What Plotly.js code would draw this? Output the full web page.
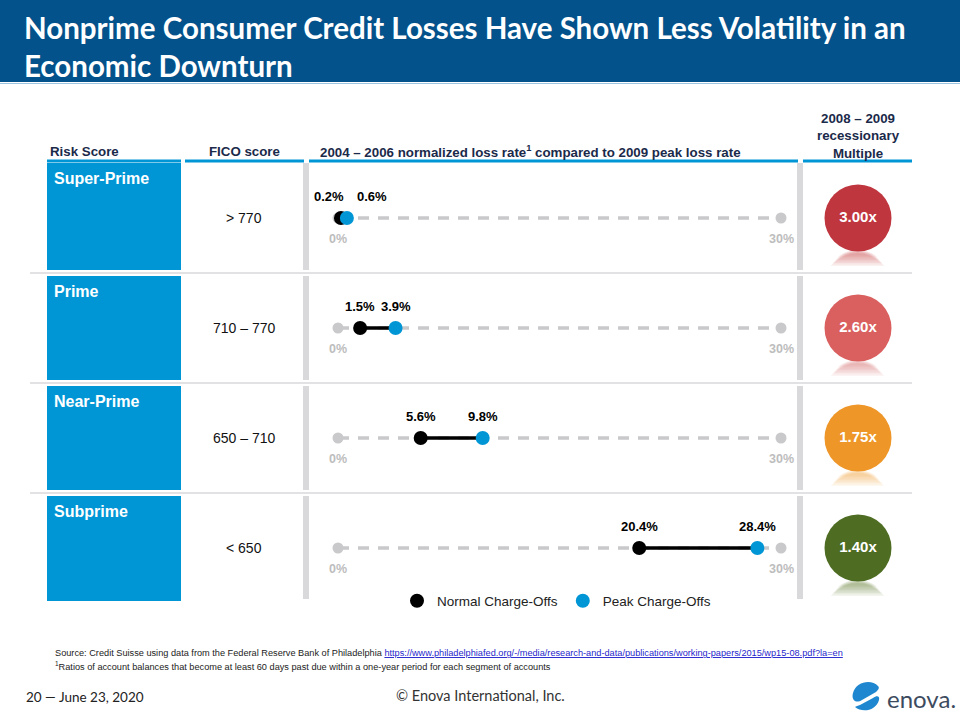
<!DOCTYPE html>
<html>
<head>
<meta charset="utf-8">
<script src="https://cdn.plot.ly/plotly-3.0.1.min.js"></script>
<style>
html,body{margin:0;padding:0;background:#fff;}
#chart{width:960px;height:720px;}
</style>
</head>
<body>
<div id="chart"></div>
<script>
// ---------------- DATA ----------------
const riskNames   = ['Super-Prime', 'Prime', 'Near-Prime', 'Subprime'];
const ficoLabels  = ['> 770', '710 – 770', '650 – 710', '< 650'];
const normalRate  = [0.2, 1.5, 5.6, 20.4];   // 2004-2006 normalized loss rate (%)
const peakRate    = [0.6, 3.9, 9.8, 28.4];   // 2009 peak loss rate (%)
const multiples   = [3.00, 2.60, 1.75, 1.40];
const scaleEnds   = [0, 30];
const multipleColors = ['#C0363F', '#D9605F', '#EE9628', '#4E6D23'];

// ---------------- LAYOUT HELPERS ----------------
const W = 960, H = 720;
const px = x => x / W;
const py = y => 1 - y / H;
const rowY0 = 218, rowStep = 110;
const yRange = [(H - rowY0) / rowStep, -rowY0 / rowStep];
const boxTops = [163, 276, 386, 496];
const boxBots = [270, 380, 490, 601];
const sepYs = [273, 383, 493];

const FONT = 'Liberation Sans, Arial, sans-serif';
const TITLEFONT = 'Lato, Open Sans, sans-serif';
const NAVY = '#1B2A4A';
const BLUE = '#0096D6';
const GRAY = '#C9C9CB';

// ---------------- TRACES ----------------
const dashX = [], dashY = [];
const connX = [], connY = [];
riskNames.forEach((r, i) => {
  dashX.push(scaleEnds[0], scaleEnds[1], null); dashY.push(r, r, null);
  connX.push(normalRate[i], peakRate[i], null); connY.push(r, r, null);
});
const endX = [], endY = [];
riskNames.forEach(r => { endX.push(scaleEnds[0], scaleEnds[1]); endY.push(r, r); });

const traces = [
  { type: 'scatter', mode: 'lines', x: dashX, y: dashY, xaxis: 'x', yaxis: 'y', cliponaxis: false,
    line: { color: GRAY, width: 3.5, dash: '11px,9px' }, hoverinfo: 'skip', showlegend: false },
  { type: 'scatter', mode: 'markers', x: endX, y: endY, xaxis: 'x', yaxis: 'y', cliponaxis: false,
    marker: { color: GRAY, size: 11 }, hoverinfo: 'skip', showlegend: false },
  { type: 'scatter', mode: 'lines', x: connX, y: connY, xaxis: 'x', yaxis: 'y', cliponaxis: false,
    line: { color: '#000000', width: 3.5 }, hoverinfo: 'skip', showlegend: false },
  { type: 'scatter', mode: 'markers', name: 'Normal Charge-Offs', x: normalRate, y: riskNames, cliponaxis: false,
    xaxis: 'x', yaxis: 'y', marker: { color: '#000000', size: 14 } },
  { type: 'scatter', mode: 'markers', name: 'Peak Charge-Offs', x: peakRate, y: riskNames, cliponaxis: false,
    xaxis: 'x', yaxis: 'y', marker: { color: BLUE, size: 14 } },
  { type: 'scatter', mode: 'markers+text', x: riskNames.map(() => 'Multiple'), y: riskNames, cliponaxis: false,
    xaxis: 'x2', yaxis: 'y', showlegend: false, hoverinfo: 'skip',
    marker: { color: multipleColors, size: 67, line: { width: 0 } },
    text: multiples.map(m => m.toFixed(2) + 'x'), textposition: 'middle center',
    textfont: { family: FONT, size: 15, color: '#FFFFFF', weight: 'bold' } }
];

// ---------------- SHAPES ----------------
const shapes = [];
// title bar
shapes.push({ type: 'rect', xref: 'paper', yref: 'paper', x0: 0, x1: 1, y0: py(82), y1: 1,
  fillcolor: '#03528B', line: { width: 0 }, layer: 'below' });
shapes.push({ type: 'line', xref: 'paper', yref: 'paper', x0: 0, x1: 1, y0: py(83.5), y1: py(83.5),
  line: { color: '#9CC3E0', width: 1.2 } });
// header underlines
[[47, 181], [185, 304], [309, 798], [803, 912]].forEach(s => {
  shapes.push({ type: 'line', xref: 'paper', yref: 'paper', x0: px(s[0]), x1: px(s[1]), y0: py(161), y1: py(161),
    line: { color: BLUE, width: 3 } });
});
// row boxes, vertical bars, reflections
riskNames.forEach((r, i) => {
  shapes.push({ type: 'rect', xref: 'paper', yref: 'paper', x0: px(47), x1: px(181),
    y0: py(boxBots[i]), y1: py(boxTops[i]), fillcolor: BLUE, line: { width: 0 }, layer: 'below' });
  [[303, 309], [797, 803]].forEach(b => {
    shapes.push({ type: 'rect', xref: 'paper', yref: 'paper', x0: px(b[0]), x1: px(b[1]),
      y0: py(boxBots[i] - (i === 3 ? 2 : 0)), y1: py(boxTops[i]), fillcolor: '#D9D9DB', line: { width: 0 }, layer: 'below' });
  });
  // soft reflection under circle (layered lens shapes)
  const cy = rowY0 + rowStep * i + 34;
  const c = multipleColors[i];
  for (let k = 0; k < 8; k++) {
    const bottom = cy + 14 - k * 1.5;
    const half = 27 - k * 1.2;
    shapes.push({ type: 'path', xref: 'paper', yref: 'paper', layer: 'below',
      path: `M ${px(857.5 - half)} ${py(bottom)} Q ${px(857.5)} ${py(cy - 12 + k * 0.5)} ${px(857.5 + half)} ${py(bottom)} Z`,
      fillcolor: c, opacity: 0.07, line: { width: 0 } });
  }
});
sepYs.forEach(y => {
  shapes.push({ type: 'line', xref: 'paper', yref: 'paper', x0: px(30), x1: px(912), y0: py(y), y1: py(y),
    line: { color: '#D9D9DB', width: 1.5 } });
});
// logo swirl
shapes.push({ type: 'path', xref: 'paper', yref: 'paper',
  path: `M ${px(878)} ${py(686)} C ${px(872)} ${py(679)} ${px(856)} ${py(681)} ${px(853)} ${py(693)} C ${px(851)} ${py(700)} ${px(856)} ${py(704)} ${px(862)} ${py(700)} L ${px(876)} ${py(692)} C ${px(878)} ${py(690)} ${px(880)} ${py(688)} ${px(878)} ${py(686)} Z`,
  fillcolor: '#1F87CF', line: { width: 0 } });
shapes.push({ type: 'path', xref: 'paper', yref: 'paper',
  path: `M ${px(855)} ${py(707)} C ${px(862)} ${py(713)} ${px(876)} ${py(711)} ${px(879)} ${py(700)} C ${px(880)} ${py(696)} ${px(877)} ${py(695)} ${px(873)} ${py(698)} L ${px(860)} ${py(705)} C ${px(858)} ${py(706)} ${px(856)} ${py(706)} ${px(855)} ${py(707)} Z`,
  fillcolor: '#1F87CF', line: { width: 0 } });

// ---------------- ANNOTATIONS ----------------
const ann = [];
const addP = (x, y, text, opts) => ann.push(Object.assign({ xref: 'paper', yref: 'paper', x: px(x), y: py(y),
  text: text, showarrow: false, xanchor: 'left', yanchor: 'middle' }, opts));

// title
addP(22, 28, 'Nonprime Consumer Credit Losses Have Shown Less Volatility in an',
  { font: { family: TITLEFONT, size: 29.5, color: '#FFFFFF', weight: 'bold' } });
addP(22, 65, 'Economic Downturn',
  { font: { family: TITLEFONT, size: 29.5, color: '#FFFFFF', weight: 'bold' } });

// headers
const hf = { family: FONT, size: 13.3, color: NAVY, weight: 'bold' };
addP(48, 151, 'Risk Score', { font: hf });
addP(244, 151, 'FICO score', { font: hf, xanchor: 'center' });
addP(318, 151, '2004 – 2006 normalized loss rate<sup>1</sup> compared to 2009 peak loss rate', { font: hf });
addP(858, 136, '2008 – 2009<br>recessionary<br>Multiple', { font: hf, xanchor: 'center', align: 'center' });

riskNames.forEach((r, i) => {
  addP(52, boxTops[i] + 15, r, { font: { family: FONT, size: 16, color: '#FFFFFF', weight: 'bold' } });
  ann.push({ xref: 'paper', yref: 'y', x: px(244), y: r, text: ficoLabels[i], showarrow: false,
    xanchor: 'center', font: { family: FONT, size: 14, color: '#111111' } });
  // 0% / 30%
  scaleEnds.forEach(v => {
    ann.push({ xref: 'x', yref: 'y', x: v, y: r, text: v + '%', showarrow: false, yshift: -21,
      font: { family: FONT, size: 12.5, color: '#BDBDBD', weight: 'bold' } });
  });
  // value labels
  const tight = (peakRate[i] - normalRate[i]) < 2;
  ann.push({ xref: 'x', yref: 'y', x: normalRate[i], y: r, text: '<b>' + normalRate[i].toFixed(1) + '%</b>',
    showarrow: false, yshift: 22, xshift: tight ? 5 : 0, xanchor: tight ? 'right' : 'center',
    font: { family: FONT, size: 13, color: '#000000' } });
  ann.push({ xref: 'x', yref: 'y', x: peakRate[i], y: r, text: '<b>' + peakRate[i].toFixed(1) + '%</b>',
    showarrow: false, yshift: 22, xshift: tight ? 8 : 0, xanchor: tight ? 'left' : 'center',
    font: { family: FONT, size: 13, color: '#000000' } });
});

// footer
const url = 'https://www.philadelphiafed.org/-/media/research-and-data/publications/working-papers/2015/wp15-08.pdf?la=en';
addP(53, 653, 'Source: Credit Suisse using data from the Federal Reserve Bank of Philadelphia ' +
  '<span style="fill:#1F1FCC;text-decoration:underline">' + url + '</span>',
  { font: { family: FONT, size: 9.2, color: '#222222' } });
addP(53, 666, '<sup>1</sup>Ratios of account balances that become at least 60 days past due within a one-year period for each segment of accounts',
  { font: { family: FONT, size: 9.2, color: '#222222' } });
addP(24, 697, '20 — June 23, 2020', { font: { family: TITLEFONT, size: 13.5, color: '#222222' } });
addP(480, 695, '© Enova International, Inc.', { font: { family: TITLEFONT, size: 14.5, color: '#333333' }, xanchor: 'center' });
addP(885, 698, 'enova.', { font: { family: 'Lato, Open Sans, sans-serif', size: 24, color: '#3D4B5F' } });

const layout = {
  width: W, height: H,
  margin: { l: 0, r: 0, t: 0, b: 0 },
  paper_bgcolor: '#FFFFFF', plot_bgcolor: 'rgba(0,0,0,0)',
  xaxis: { domain: [px(338), px(781)], range: scaleEnds, visible: false, fixedrange: true },
  xaxis2: { domain: [px(825), px(891)], type: 'category', visible: false, fixedrange: true, anchor: 'y' },
  yaxis: { domain: [0, 1], type: 'category', categoryarray: riskNames, categoryorder: 'array',
    range: yRange, visible: false, fixedrange: true },
  showlegend: true,
  legend: { orientation: 'h', x: px(397), y: py(601), xanchor: 'left', yanchor: 'middle',
    font: { family: FONT, size: 13.5, color: '#222222' }, bgcolor: 'rgba(0,0,0,0)', itemwidth: 30,
    traceorder: 'normal' },
  shapes: shapes,
  annotations: ann
};

Plotly.newPlot('chart', traces, layout, { displayModeBar: false, staticPlot: true });
</script>
</body>
</html>
